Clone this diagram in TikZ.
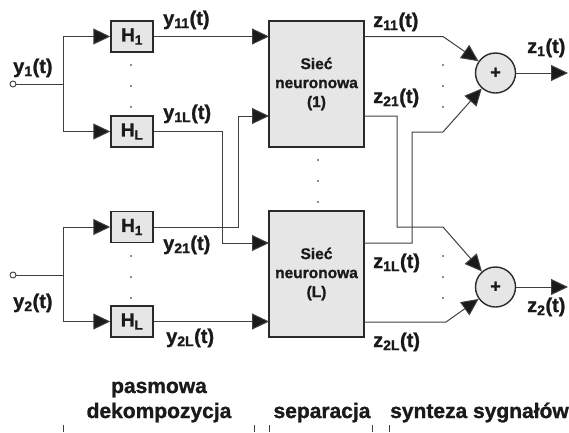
\documentclass[tikz,border=0pt]{standalone}
\usepackage{fontspec}
\setmainfont{Liberation Sans}[BoldFeatures={FakeBold=1.2}]
\usetikzlibrary{arrows.meta}

\definecolor{wirecol}{HTML}{404040}
\definecolor{edgecol}{HTML}{2A2A2A}
\definecolor{boxfill}{HTML}{E6E6E6}
\definecolor{txtcol}{HTML}{1A1A1A}

\begin{document}
\begin{tikzpicture}[x=1pt,y=-1pt,
  wire/.style={draw=wirecol, line width=1pt},
  arr/.style={wire, -{Triangle[length=17pt,width=16pt,fill=txtcol]}},
  filt/.style={draw=edgecol, line width=1.5pt, fill=boxfill, minimum width=42pt,
    minimum height=31pt, inner sep=0pt, text=txtcol,
    font=\fontsize{19}{22}\selectfont\bfseries},
  netbox/.style={draw=edgecol, line width=1.5pt, fill=boxfill, minimum width=95pt,
    minimum height=126pt, inner sep=0pt, align=center, text=txtcol,
    font=\fontsize{15.5}{19}\selectfont\bfseries},
  sumnode/.style={circle, draw=edgecol, line width=1.4pt, fill=boxfill,
    minimum size=40pt, inner sep=0pt, text=txtcol,
    font=\fontsize{18}{20}\selectfont\bfseries},
  incirc/.style={circle, draw=wirecol, line width=0.9pt, fill=white,
    minimum size=6pt, inner sep=0pt},
  lbl/.style={anchor=base west, inner sep=0pt, text=txtcol,
    font=\fontsize{20}{24}\selectfont\bfseries},
  caption/.style={anchor=base, inner sep=0pt, text=txtcol,
    font=\fontsize{21}{25}\selectfont\bfseries},
  dotmark/.style={circle, fill=txtcol, inner sep=0pt, minimum size=1.6pt},
  tick/.style={draw=wirecol, line width=0.9pt}
]
\useasboundingbox (0,0) rectangle (569,432);

% --- inputs and band filters ---
\node[incirc] (in1) at (13,84) {};
\node[incirc] (in2) at (13,275) {};
\coordinate (j1) at (63,84);
\coordinate (j2) at (63,275);

\node[filt] (h1a) at (132,36.5) {H\textsubscript{1}};
\node[filt] (hla) at (132,131.5) {H\textsubscript{L}};
\node[filt] (h1b) at (132,227) {H\textsubscript{1}};
\node[filt] (hlb) at (132,321.5) {H\textsubscript{L}};

% --- separating networks ---
\node[netbox] (net1) at (316.5,84) {Sieć\\neuronowa\\(1)};
\node[netbox] (net2) at (316.5,274) {Sieć\\neuronowa\\(L)};

% --- summing nodes ---
\node[sumnode] (s1) at (495.5,73) {+};
\node[sumnode] (s2) at (495.5,287) {+};

% network inputs
\coordinate (n1a) at (269,36.5);
\coordinate (n1b) at (269,116);
\coordinate (n2a) at (269,243);
\coordinate (n2b) at (269,321.5);
% bend points of the cross-over wires
\coordinate (b1) at (222,131.5);
\coordinate (b2) at (238,227);
% network outputs
\coordinate (o1a) at (364,36.5);
\coordinate (o1b) at (364,116);
\coordinate (o2a) at (364,243);
\coordinate (o2b) at (364,322);
\coordinate (c1) at (397,116);
\coordinate (c2) at (412,243);
\coordinate (k1a) at (443,36.5);
\coordinate (k1b) at (443,132);
\coordinate (k2a) at (443,227);
\coordinate (k2b) at (446,322);
\coordinate (out1) at (568,73);
\coordinate (out2) at (568,287);

% input distribution
\draw[wire] (in1) -- (j1);
\draw[wire] (in2) -- (j2);
\draw[arr] (j1) |- (h1a.west);
\draw[arr] (j1) |- (hla.west);
\draw[arr] (j2) |- (h1b.west);
\draw[arr] (j2) |- (hlb.west);

% filter outputs to networks
\draw[arr] (h1a.east) -- (n1a);
\draw[arr] (hla.east) -- (b1) |- (n2a);
\draw[arr] (h1b.east) -- (b2) |- (n1b);
\draw[arr] (hlb.east) -- (n2b);

% network outputs to summing nodes
\draw[arr] (o1a) -- (k1a) -- (s1);
\draw[arr] (o1b) -- (c1) |- (k2a) -- (s2);
\draw[arr] (o2a) -- (c2) |- (k1b) -- (s1);
\draw[arr] (o2b) -- (k2b) -- (s2);
\draw[arr] (s1) -- (out1);
\draw[arr] (s2) -- (out2);

% ellipsis dots
\foreach \yy in {65,86,107,256,277,298} {
  \node[dotmark] at (131,\yy) {};
  \node[dotmark] at (443,\yy) {};
}
\foreach \yy in {160,181,202} \node[dotmark] at (318,\yy) {};

% signal labels
\node[lbl] (ly1) at (13,73) {y\textsubscript{1}(t)};
\node[lbl] (ly2) at (13,308) {y\textsubscript{2}(t)};
\node[lbl] (ly11) at (163,25) {y\textsubscript{11}(t)};
\node[lbl] (ly1l) at (163,119) {y\textsubscript{1L}(t)};
\node[lbl] (ly21) at (163,250) {y\textsubscript{21}(t)};
\node[lbl] (ly2l) at (166,343) {y\textsubscript{2L}(t)};
\node[lbl] (lz11) at (373,27) {z\textsubscript{11}(t)};
\node[lbl] (lz21) at (373,103) {z\textsubscript{21}(t)};
\node[lbl] (lz1l) at (373,268) {z\textsubscript{1L}(t)};
\node[lbl] (lz2l) at (373,347) {z\textsubscript{2L}(t)};
\node[lbl] (lz1) at (527,53) {z\textsubscript{1}(t)};
\node[lbl] (lz2) at (527,312) {z\textsubscript{2}(t)};

% stage captions
\node[caption] (cap1a) at (159,393) {pasmowa};
\node[caption] (cap1b) at (159,418) {dekompozycja};
\node[caption] (cap2) at (322,418) {separacja};
\node[caption, anchor=base west] (cap3) at (390,418) {synteza sygnałów};

% stage boundary ticks
\foreach \xx in {63,254,269,372,389} \draw[tick] (\xx,425) -- (\xx,432);
\end{tikzpicture}
\end{document}
